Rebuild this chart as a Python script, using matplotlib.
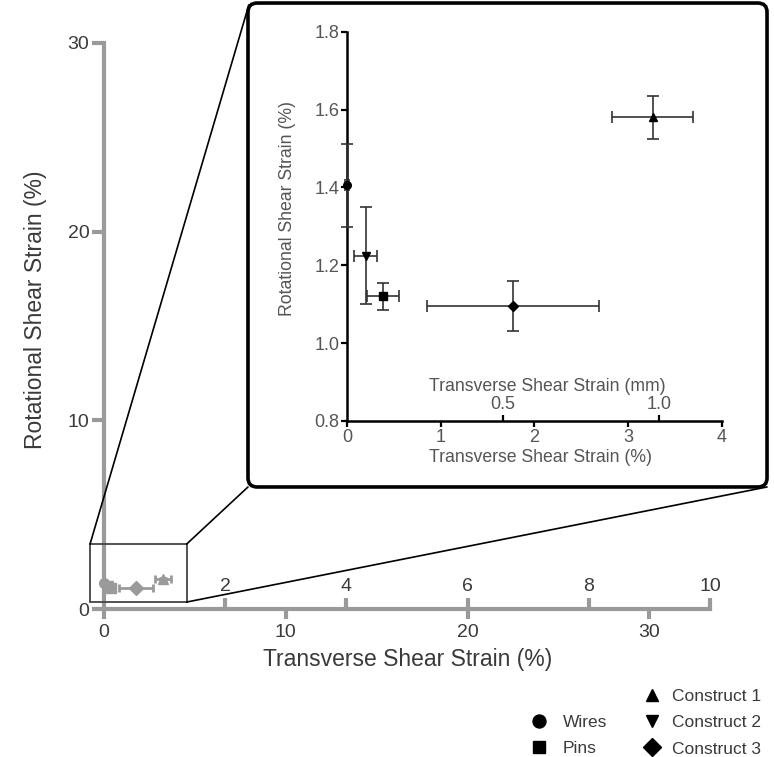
import matplotlib
matplotlib.use("Agg")
import matplotlib.pyplot as plt
from matplotlib.patches import Rectangle, FancyBboxPatch, ConnectionPatch

plt.rcParams['font.family'] = ['Liberation Sans', 'DejaVu Sans']

# data (percent strain)
labels = ['Wires', 'Pins', 'Construct 1', 'Construct 2', 'Construct 3']
markers = ['o', 's', '^', 'v', 'D']
trans_pct = [0.0, 0.38, 3.26, 0.20, 1.77]
trans_err = [0.02, 0.17, 0.43, 0.125, 0.92]
rot_pct = [1.405, 1.12, 1.58, 1.225, 1.095]
rot_err = [0.107, 0.034, 0.055, 0.125, 0.064]

main_xticks = [0, 10, 20, 30]
main_yticks = [0, 10, 20, 30]
mm_ticks_main = [2, 4, 6, 8, 10]
inset_xticks = [0, 1, 2, 3, 4]
inset_yticks = [0.8, 1.0, 1.2, 1.4, 1.6, 1.8]
mm_ticks_inset = [0.5, 1.0]

PCT_PER_MM = 10 / 3.0


def pct2mm(x):
    return x / PCT_PER_MM


def mm2pct(x):
    return x * PCT_PER_MM


gray = '#9a9a9a'
txt = '#3a3a3a'
txt2 = '#555555'

fig = plt.figure(figsize=(7.74, 7.57), dpi=100)

# ---------------- main axes ----------------
ax = fig.add_axes([0.1109, 0.1705, 0.822, 0.7977])
ax.set_xlim(-1, 34)
ax.set_ylim(-1, 31)
for s in ['top', 'right']:
    ax.spines[s].set_visible(False)
for s in ['left', 'bottom']:
    ax.spines[s].set_position(('data', 0))
    ax.spines[s].set_color(gray)
    ax.spines[s].set_linewidth(3)
ax.spines['left'].set_bounds(0, 30)
ax.spines['bottom'].set_bounds(0, mm2pct(10))
ax.set_xticks(main_xticks)
ax.set_yticks(main_yticks)
ax.tick_params(axis='x', length=7, width=3, color=gray, labelsize=14,
               labelcolor=txt, pad=4)
ax.tick_params(axis='y', length=8.5, width=3, color=gray, labelsize=14,
               labelcolor=txt, pad=2)
ax.set_xlabel('Transverse Shear Strain (%)', fontsize=16.5, color=txt, labelpad=5)
ax.xaxis.label.set_x(0.505)
ax.set_ylabel('Rotational Shear Strain (%)', fontsize=16.5, color=txt)
ax.yaxis.set_label_coords(-0.061, 0.527)

for i in range(len(labels)):
    ax.errorbar(trans_pct[i], rot_pct[i], xerr=trans_err[i], yerr=rot_err[i],
                fmt=markers[i], color=gray, ms=7, elinewidth=2, capsize=3,
                capthick=2, clip_on=False, zorder=3)

secm = ax.secondary_xaxis(1 / 32.0, functions=(pct2mm, mm2pct))
secm.set_alignment('top')
for s in secm.spines.values():
    s.set_visible(False)
secm.set_xticks(mm_ticks_main)
secm.tick_params(axis='x', length=8, width=3, color=gray, labelsize=14,
                 labelcolor=txt, pad=2)

zoom_rect = Rectangle((-0.77, 0.37), 5.31, 3.07, fill=False, ec='#444444',
                      lw=1.3, zorder=4)
ax.add_patch(zoom_rect)

# ---------------- inset ----------------
frame = FancyBboxPatch((0.3204, 0.3567), 0.6706, 0.6393,
                       boxstyle='round,pad=0,rounding_size=0.012',
                       transform=fig.transFigure, fc='white', ec='black',
                       lw=2.6, zorder=5)
fig.patches.append(frame)

for (xa, ya), (xb, yb) in [((-0.77, 3.44), (0.3215, 0.9935)),
                           ((4.54, 3.44), (0.3204, 0.3567)),
                           ((4.54, 0.37), (0.991, 0.3567))]:
    con = ConnectionPatch(xyA=(xa, ya), coordsA=ax.transData,
                          xyB=(xb, yb), coordsB=fig.transFigure,
                          color='black', lw=1.2, zorder=4)
    fig.add_artist(con)

axin = fig.add_axes([0.4483, 0.4439, 0.4845, 0.5143], zorder=6)
axin.patch.set_alpha(0)
axin.set_xlim(0, 4)
axin.set_ylim(0.8, 1.8)
for s in ['top', 'right']:
    axin.spines[s].set_visible(False)
for s in ['left', 'bottom']:
    axin.spines[s].set_linewidth(1.8)
axin.set_xticks(inset_xticks)
axin.set_yticks(inset_yticks)
axin.set_yticklabels(['%.1f' % v for v in inset_yticks])
axin.tick_params(length=4.5, width=1.6, labelsize=13, labelcolor=txt2, pad=1)
axin.set_xlabel('Transverse Shear Strain (%)', fontsize=12.7, color=txt2)
axin.xaxis.set_label_coords(0.515, -0.073)
axin.set_ylabel('Rotational Shear Strain (%)', fontsize=12.7, color=txt2)
axin.yaxis.set_label_coords(-0.136, 0.547)

handles = []
for i in range(len(labels)):
    eb = axin.errorbar(trans_pct[i], rot_pct[i], xerr=trans_err[i], yerr=rot_err[i],
                       fmt=markers[i], color='black', ms=5.5, ecolor='#333333',
                       elinewidth=1.2, capsize=4, capthick=1.2, clip_on=False,
                       zorder=3)
    handles.append(eb[0])

seci = axin.secondary_xaxis('bottom', functions=(pct2mm, mm2pct))
seci.set_alignment('top')
for s in seci.spines.values():
    s.set_visible(False)
seci.set_xticks(mm_ticks_inset)
seci.set_xticklabels(['0.5', '1.0'])
seci.tick_params(axis='x', length=4.5, width=1.6, labelsize=13,
                 labelcolor=txt2, pad=1)
seci.set_xlabel('Transverse Shear Strain (mm)', fontsize=12.7, color=txt2, labelpad=4)
seci.xaxis.label.set_x(0.533)

# ---------------- legends ----------------
leg1 = fig.legend([handles[0], handles[1]], labels[:2], loc='upper left',
                  bbox_to_anchor=(0.6852, 0.0555), frameon=False, fontsize=12.5,
                  handlelength=1.0, handletextpad=0.88, borderpad=0,
                  borderaxespad=0, labelspacing=0.6, markerscale=1.7,
                  labelcolor=txt)
leg2 = fig.legend(handles[2:], labels[2:], loc='upper left',
                  bbox_to_anchor=(0.8312, 0.0905), frameon=False, fontsize=12.5,
                  handlelength=1.0, handletextpad=0.65, borderpad=0,
                  borderaxespad=0, labelspacing=0.65, markerscale=1.7,
                  labelcolor=txt)

fig.savefig('out.png', dpi=100, facecolor='white')
